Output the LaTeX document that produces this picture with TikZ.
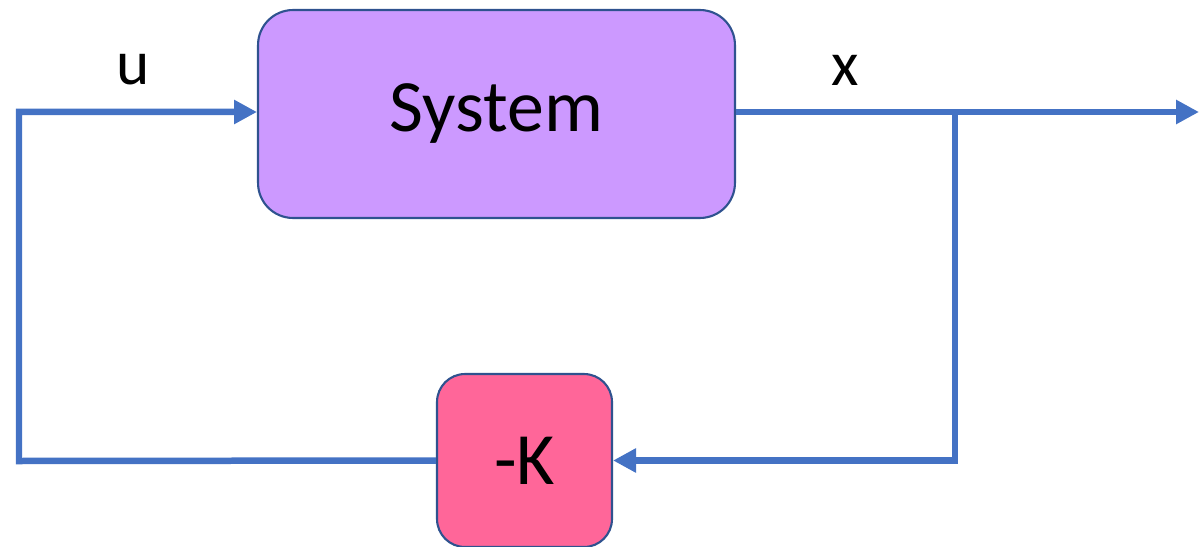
\documentclass[tikz,border=0pt]{standalone}
\usepackage{fontspec}
\setmainfont{Carlito}
\usepackage{xcolor}
\usetikzlibrary{arrows.meta,positioning}
\definecolor{sysfill}{HTML}{CC99FF}
\definecolor{gainfill}{HTML}{FF6699}
\definecolor{edge}{HTML}{2F528F}
\definecolor{wire}{HTML}{4472C4}
\begin{document}
\begin{tikzpicture}[
  x=0.02cm, y=-0.02cm,
  every node/.style={font=\fontsize{42}{46}\selectfont},
  blk/.style={rectangle, draw=edge, line width=1.2pt, align=center, inner sep=0pt},
  sys/.style={blk, fill=sysfill, rounded corners=0.7cm, minimum width=9.54cm, minimum height=4.16cm},
  gain/.style={blk, fill=gainfill, rounded corners=0.56cm, minimum width=3.5cm, minimum height=3.46cm},
  sig/.style={font=\fontsize{36}{40}\selectfont},
  a/.style={-{Triangle[length=0.46cm,width=0.46cm]}, line width=0.13cm, draw=wire},
]
\useasboundingbox (0,0) rectangle (1199,547);
\node[sys] (sys) at (496.5,114) {System};
\node[gain] (gain) at (524.5,460.5) {-K};
\coordinate (branch) at (955,112);
\coordinate (out) at (1199,112);
\coordinate (lc) at (19,461);
\node[sig] (u) at (133,70) {u};
\node[sig] (x) at (845,70) {x};

\draw[a] (sys.east |- out) -- (out);
\draw[a] (branch) |- (gain.east);
\draw[a] (gain.west) -- (lc) |- (sys.west |- out);
\end{tikzpicture}
\end{document}
